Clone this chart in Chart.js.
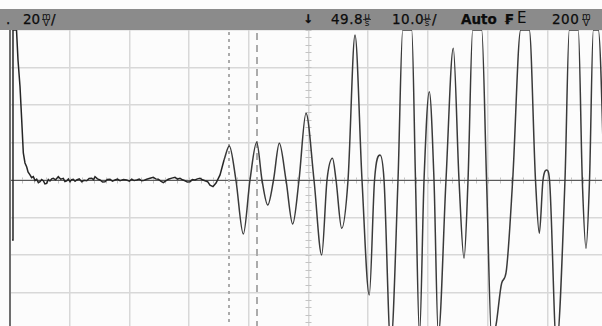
<!DOCTYPE html>
<html>
<head>
<meta charset="utf-8">
<script src="https://cdn.jsdelivr.net/npm/chart.js@4/dist/chart.umd.min.js"></script>
<style>
  html, body { margin: 0; padding: 0; background: #fff; overflow: hidden; }
  #wrap { position: relative; width: 602px; height: 326px; background: #fcfcfc; }
  #scope { position: absolute; left: 0; top: 0; }
  #bar { position: absolute; left: 0; top: 9px; width: 602px; height: 21px; background: #8b8b8b; }
  .t { position: absolute; top: 10px; font-family: "DejaVu Sans", sans-serif; font-size: 13.5px; line-height: 18px; color: #0c0c0c; white-space: nowrap; -webkit-text-stroke: 0.25px #0c0c0c; }
  .u { position: absolute; top: 13px; font-family: "DejaVu Sans", sans-serif; font-size: 9px; line-height: 6px; color: #0c0c0c; text-align: center; width: 8px; }
  .u span { display: block; }
  .u span:first-child { border-bottom: 1px solid #333; line-height: 6px; }
</style>
</head>
<body>
<div id="wrap">
  <canvas id="scope" width="602" height="326"></canvas>
  <div id="bar"></div>
  <div class="t" style="left:6px">.</div>
  <div class="t" style="left:23px">20</div>
  <div class="u" style="left:42px"><span>m</span><span>V</span></div>
  <div class="t" style="left:51px">/</div>
  <div class="t" style="left:303px;font-size:12px;font-weight:bold">↓</div>
  <div class="t" style="left:331px;letter-spacing:0.5px">49.8</div>
  <div class="u" style="left:363px"><span>µ</span><span>s</span></div>
  <div class="t" style="left:392px;letter-spacing:0.5px">10.0</div>
  <div class="u" style="left:423px"><span>µ</span><span>s</span></div>
  <div class="t" style="left:432px">/</div>
  <div class="t" style="left:461px;font-weight:bold">Auto</div>
  <div class="t" style="left:504px;font-weight:bold">₣</div>
  <div class="t" style="left:517px;font-size:15px;top:9px;-webkit-text-stroke:0">E</div>
  <div class="t" style="left:552px;letter-spacing:0.5px">200</div>
  <div class="u" style="left:582px"><span>m</span><span>V</span></div>
</div>
<script>
// time since left edge of screen (us), 10 us/div; channel 1 in mV, 20 mV/div
// spike and noisy baseline before the ringing starts
var baseTime = [
  0.34, 0.50, 1.09, 1.34, 1.68, 1.96, 2.23, 2.51, 2.80, 3.02, 3.35,
  3.62, 3.90, 4.20, 4.47, 4.75, 5.03, 5.30, 5.58, 5.85, 6.15, 6.42, 6.70,
  6.98, 7.25, 7.65, 8.09, 8.50, 8.93, 9.20, 9.50, 9.78,
  10.05, 10.32, 10.60, 10.90, 11.17, 11.60, 12.01, 12.40, 12.85, 13.25, 13.69,
  14.00, 14.24, 14.65, 15.08, 15.50, 15.91, 16.30, 16.75, 17.15, 17.59,
  18.00, 18.43, 19.00, 19.55, 20.00, 20.39, 20.80, 21.22, 21.65, 22.06,
  22.50, 22.90, 23.45, 24.00, 24.40, 24.84, 25.25, 25.68, 26.10, 26.52,
  27.10, 27.64, 28.05, 28.48, 28.90, 29.31, 29.70, 30.15, 30.55, 30.99,
  31.40, 31.83, 32.25, 32.66, 33.10, 33.50, 34.00, 34.51, 35.18, 35.85
];
var baseMv = [
  -32.0, 80, 80, 64.0, 49.6, 32.0, 14.4, 9.1, 6.9, 4.3, 2.7,
  1.2, 1.8, -0.3, 0.4, -1.4, -0.9, 0.2, -0.4, -2.1, -1.8, 0.3, -0.5,
  0.6, 0.9, 0.1, 1.8, 0.4, 0.9, -0.8, -0.4, 0.5,
  -0.9, 0.2, 0.4, -0.7, 0, 0.6, -0.9, -0.2, -0.4, 0.8, 0.9,
  0.2, 1.8, 0.6, 0, -1.1, -0.9, 0.3, 0.4, -0.6, 0,
  0.5, -0.4, 0.3, 0, -0.6, 0.4, -0.3, 0, 0.5, -0.4,
  -0.1, 0.4, 0.9, 1.4, 0.6, 0.4, -0.6, -1.4, -0.5, 0.4,
  1.0, 1.4, 0.5, 0.9, 0.1, -0.4, -1.1, -0.9, 0.2, 0,
  0.6, 0.9, 0.1, -0.4, -0.9, -2.7, -3.5, -1.6, 2.7, 10.7
];
// ringing part
var ringTime = [
  35.85,
  36.73, 37.84, 39.08, 40.20, 41.32, 42.21, 43.17, 44.14, 45.11, 46.23,
  47.35, 48.41, 49.58, 50.92, 52.21, 53.10, 54.02, 54.61, 55.56, 56.62,
  57.79, 58.96, 60.18, 61.06, 61.98, 62.65, 63.77, 64.99, 65.78, 67.29,
  67.92, 68.59, 69.35, 70.23, 71.02, 71.74, 73.03, 74.25, 75.21, 76.05,
  76.72, 77.50, 79.01, 79.82, 80.69, 81.41, 82.36, 83.08, 84.20, 85.54,
  86.98, 88.02, 88.66, 89.28, 89.90, 90.37, 91.54, 92.96, 93.68, 95.19,
  95.86, 96.48, 97.07, 97.71, 98.54, 99.83
];
var ringMv = [
  10.7,
  18.1, 0, -28.8, 0, 20.1, 0, -13.3, 0, 19.6, 0,
  -23.5, 0, 35.6, 0, -40.0, 0, 11.6, 0, -25.8, 0,
  77.3, 0, -61.3, 0, 13.3, 0, -88, 0, 80, 80,
  0, -82.7, 0, 47.1, 0, -82.7, 0, 70.2, 0, -41.8,
  0, 80, 80, 0, -85.3, -77.3, -54.9, -49.6, 0, 80,
  80, 0, -28.4, 0, 5.3, 0, -88, 0, 80, 80,
  0, -36.4, 0, 80, 80, -37.3
];
var gridTimes = [0, 10, 20, 30, 40, 50, 60, 70, 80, 90];
var gridMv = [-60, -40, -20, 0, 20, 40, 60, 80];
var cursorTimes = [36.7, 41.3];
var centerTime = 50;

function toPoints(ts, vs) {
    return ts.map(function (t, i) { return { x: t, y: vs[i] }; });
}

var scopeOverlay = {
    id: 'scopeOverlay',
    beforeDatasetsDraw: function (chart) {
        var ctx = chart.ctx, a = chart.chartArea;
        var xs = chart.scales.x, ys = chart.scales.y;
        var y0 = Math.round(ys.getPixelForValue(0)) + 0.5;
        var xc = xs.getPixelForValue(centerTime);
        ctx.save();
        // minor ticks on centre axes
        ctx.strokeStyle = '#c4c4c4';
        ctx.lineWidth = 1;
        for (var t = 0; t < 100; t += 2) {
            var px = Math.round(xs.getPixelForValue(t)) + 0.5;
            ctx.beginPath(); ctx.moveTo(px, y0 - 3); ctx.lineTo(px, y0 + 3); ctx.stroke();
        }
        for (var v = -76; v <= 80; v += 4) {
            var py = Math.round(ys.getPixelForValue(v)) + 0.5;
            ctx.beginPath(); ctx.moveTo(xc - 3, py); ctx.lineTo(xc + 3, py); ctx.stroke();
        }
        // centre horizontal axis
        ctx.strokeStyle = '#5a5a5a';
        ctx.beginPath(); ctx.moveTo(a.left, y0); ctx.lineTo(a.right, y0); ctx.stroke();
        // cursors
        ctx.strokeStyle = '#ababab';
        ctx.lineWidth = 2;
        var c1 = Math.round(xs.getPixelForValue(cursorTimes[0]));
        var c2 = Math.round(xs.getPixelForValue(cursorTimes[1]));
        ctx.setLineDash([3, 4]);
        ctx.beginPath(); ctx.moveTo(c1, a.top + 2); ctx.lineTo(c1, a.bottom); ctx.stroke();
        ctx.setLineDash([7, 5]);
        ctx.beginPath(); ctx.moveTo(c2, a.top + 3); ctx.lineTo(c2, a.bottom); ctx.stroke();
        ctx.restore();
    },
    afterDraw: function (chart) {
        var ctx = chart.ctx, a = chart.chartArea;
        ctx.save();
        ctx.strokeStyle = '#6e6e6e';
        ctx.lineWidth = 2;
        ctx.beginPath(); ctx.moveTo(a.left, a.top); ctx.lineTo(a.left, a.bottom); ctx.stroke();
        ctx.restore();
    }
};

new Chart(document.getElementById('scope'), {
    type: 'line',
    data: {
        datasets: [{
            data: toPoints(baseTime, baseMv),
            borderColor: '#262626',
            borderWidth: 1.5,
            pointRadius: 0,
            tension: 0,
            fill: false
        }, {
            data: toPoints(ringTime, ringMv),
            borderColor: '#3a3a3a',
            borderWidth: 1.5,
            pointRadius: 0,
            cubicInterpolationMode: 'monotone',
            fill: false
        }]
    },
    options: {
        responsive: false,
        animation: false,
        devicePixelRatio: 1,
        layout: { padding: { left: 10, top: 30, right: 0, bottom: 0 } },
        plugins: { legend: { display: false }, tooltip: { enabled: false } },
        scales: {
            x: {
                type: 'linear', min: 0, max: 99.16,
                ticks: { display: false },
                grid: { color: '#d8d8d8', lineWidth: 1.5, drawTicks: false },
                border: { display: false },
                afterBuildTicks: function (s) { s.ticks = gridTimes.map(function (v) { return { value: v }; }); }
            },
            y: {
                type: 'linear', min: -77.87, max: 80,
                ticks: { display: false },
                grid: { color: '#d8d8d8', lineWidth: 1.5, drawTicks: false },
                border: { display: false },
                afterBuildTicks: function (s) { s.ticks = gridMv.map(function (v) { return { value: v }; }); }
            }
        }
    },
    plugins: [scopeOverlay]
});
</script>
</body>
</html>
